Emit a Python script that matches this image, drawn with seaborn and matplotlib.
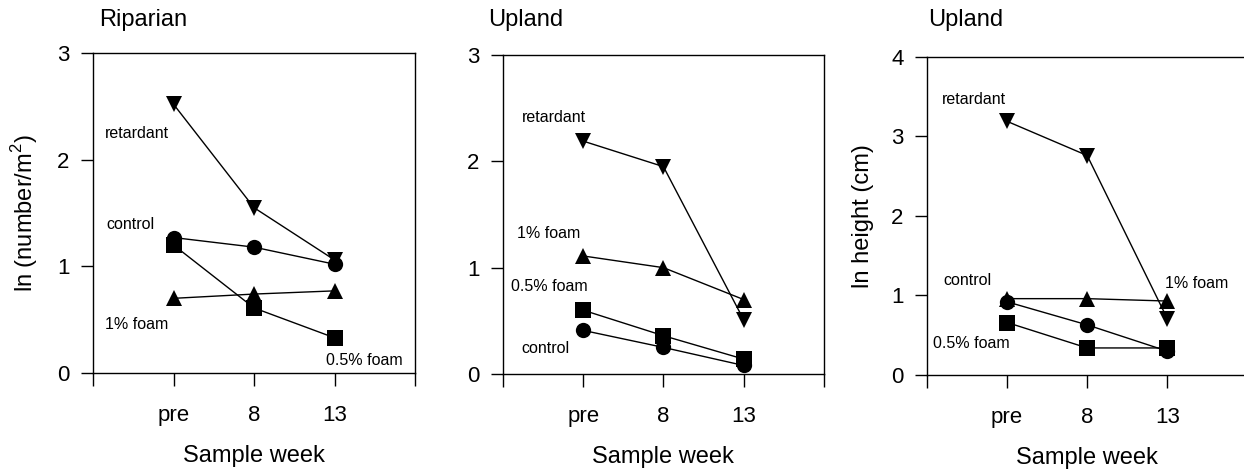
import matplotlib
matplotlib.use("Agg")
import matplotlib.pyplot as plt
import seaborn as sns
import pandas as pd

# Sampling times and treatments
weeks = ["pre", "8", "13"]
treatments = ["retardant", "control", "1% foam", "0.5% foam"]

# Riparian: ln(number/m^2)
rip_retardant = [2.52, 1.55, 1.06]
rip_control = [1.27, 1.18, 1.02]
rip_foam1 = [0.70, 0.74, 0.77]
rip_foam05 = [1.20, 0.61, 0.33]

# Upland: ln(number/m^2)
upl_retardant = [2.19, 1.95, 0.51]
upl_control = [0.41, 0.25, 0.08]
upl_foam1 = [1.11, 1.00, 0.70]
upl_foam05 = [0.60, 0.36, 0.14]

# Upland: ln height (cm)
hgt_retardant = [3.19, 2.76, 0.71]
hgt_control = [0.92, 0.63, 0.30]
hgt_foam1 = [0.96, 0.96, 0.93]
hgt_foam05 = [0.66, 0.34, 0.34]

markers = {"retardant": "v", "control": "o", "1% foam": "^", "0.5% foam": "s"}


def long_table(series):
    rows = []
    for name, vals in zip(treatments, series):
        for i, v in enumerate(vals):
            rows.append({"treatment": name, "pos": i, "week": weeks[i], "value": v})
    return pd.DataFrame(rows)


sns.set_style("ticks")
plt.rcParams["font.family"] = ["Liberation Sans", "DejaVu Sans"]
plt.rcParams["mathtext.fontset"] = "custom"
plt.rcParams["mathtext.rm"] = "Liberation Sans"
for key in ("text.color", "axes.labelcolor", "xtick.color", "ytick.color",
            "axes.edgecolor"):
    plt.rcParams[key] = "black"

fig = plt.figure(figsize=(12.44, 4.74), dpi=100)

panels = [
    dict(rect=[0.0748, 0.2131, 0.2588, 0.675], title="Riparian", title_x=0.080,
         series=[rip_retardant, rip_control, rip_foam1, rip_foam05], ymax=3,
         ylabel="ln (number/m$^2$)",
         notes=[("retardant", -0.85, 2.25), ("control", -0.83, 1.39),
                ("1% foam", -0.85, 0.45), ("0.5% foam", 1.9, 0.12)]),
    dict(rect=[0.4043, 0.211, 0.258, 0.673], title="Upland", title_x=0.392,
         series=[upl_retardant, upl_control, upl_foam1, upl_foam05], ymax=3,
         ylabel=None,
         notes=[("retardant", -0.77, 2.41), ("control", -0.77, 0.24),
                ("1% foam", -0.83, 1.32), ("0.5% foam", -0.90, 0.82)]),
    dict(rect=[0.7452, 0.2089, 0.2575, 0.671], title="Upland", title_x=0.746,
         series=[hgt_retardant, hgt_control, hgt_foam1, hgt_foam05], ymax=4,
         ylabel="ln height (cm)",
         notes=[("retardant", -0.82, 3.47), ("control", -0.79, 1.19),
                ("1% foam", 1.97, 1.15), ("0.5% foam", -0.92, 0.40)]),
]

for p in panels:
    ax = fig.add_axes(p["rect"])
    df = long_table(p["series"])
    sns.lineplot(data=df, x="pos", y="value", hue="treatment", style="treatment",
                 markers=markers, dashes=False,
                 palette={t: "black" for t in treatments},
                 markersize=11, markeredgewidth=0, linewidth=1.0,
                 legend=False, ax=ax)
    ax.set_xlim(-1, 3)
    ax.set_ylim(0, p["ymax"])
    ax.set_xticks([-1, 0, 1, 2, 3])
    ax.set_xticklabels([""] + weeks + [""])
    ax.set_yticks(range(0, p["ymax"] + 1))
    ax.tick_params(axis="both", direction="out", length=9, width=1,
                   color="black", labelcolor="black", labelsize=16)
    ax.tick_params(axis="x", pad=14)
    ax.tick_params(axis="y", pad=8)
    for s in ax.spines.values():
        s.set_visible(True)
        s.set_linewidth(1.0)
        s.set_color("black")
    ax.set_xlabel("Sample week", fontsize=17, labelpad=14, color="black")
    if p["ylabel"]:
        ax.set_ylabel(p["ylabel"], fontsize=17, labelpad=12, color="black")
    else:
        ax.set_ylabel("")
    for text, x, y in p["notes"]:
        ax.text(x, y, text, fontsize=11.5, ha="left", va="center", color="black")
    fig.text(p["title_x"], 0.957, p["title"], fontsize=17, ha="left",
             va="center", color="black")

fig.savefig("out.png", dpi=100)
